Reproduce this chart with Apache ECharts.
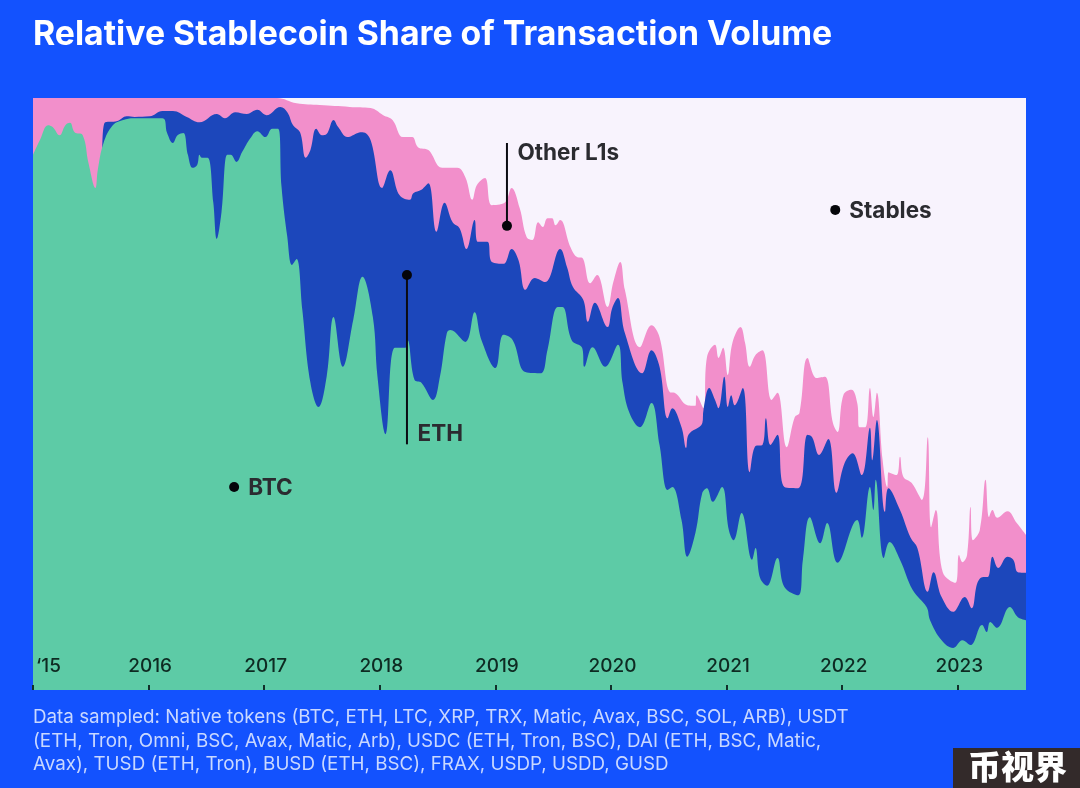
<!DOCTYPE html>
<html>
<head>
<meta charset="utf-8">
<title>Relative Stablecoin Share of Transaction Volume</title>
<style>
  html, body { margin: 0; padding: 0; background: #1352fe; }
  #chart { width: 1080px; height: 788px; }
</style>
<script src="https://cdn.jsdelivr.net/npm/echarts@6/dist/echarts.min.js"></script>
</head>
<body>
<div id="chart"></div>
<script>
// all shares are cumulative % of volume, x is the fractional year
var yearTicks = [2015, 2016, 2017, 2018, 2019, 2020, 2021, 2022, 2023];
var lastYear = 2023.59;

var btcTop = [
  [2015.00,90.4],[2015.06,92.9],[2015.13,95.4],[2015.17,95.1],[2015.23,93.7],[2015.28,95.4],[2015.32,95.8],[2015.36,94.2],[2015.43,93.7],[2015.48,89.0],
  [2015.54,84.8],[2015.56,87.8],[2015.61,92.4],[2015.69,95.4],[2015.78,96.3],[2015.87,96.6],[2016.12,96.6],[2016.16,94.1],[2016.21,92.4],[2016.25,93.7],
  [2016.30,94.1],[2016.34,90.4],[2016.38,88.2],[2016.42,88.7],[2016.44,90.4],[2016.46,89.9],[2016.51,89.9],[2016.56,82.3],[2016.59,76.2],[2016.63,80.6],
  [2016.68,90.4],[2016.71,90.4],[2016.76,89.2],[2016.81,90.9],[2016.88,93.2],[2016.94,94.4],[2017.01,93.4],[2017.07,94.8],[2017.12,94.8],[2017.15,85.0],
  [2017.20,76.5],[2017.24,71.8],[2017.28,72.8],[2017.33,64.2],[2017.40,51.9],[2017.47,47.8],[2017.54,52.9],[2017.60,63.0],[2017.68,54.6],[2017.77,62.5],
  [2017.85,69.8],[2017.94,63.0],[2017.98,52.9],[2018.05,43.2],[2018.13,57.8],[2018.22,57.8],[2018.24,59.1],[2018.30,52.4],[2018.36,51.9],[2018.46,49.0],
  [2018.52,52.9],[2018.58,60.3],[2018.61,60.8],[2018.74,58.8],[2018.82,63.8],[2018.88,59.1],[2019.00,54.4],[2019.07,60.0],[2019.15,59.1],[2019.26,53.7],
  [2019.39,53.5],[2019.45,57.4],[2019.54,64.7],[2019.58,64.7],[2019.66,59.1],[2019.75,57.8],[2019.77,54.6],[2019.84,57.9],[2019.95,54.6],[2020.06,58.3],
  [2020.10,51.9],[2020.16,46.8],[2020.25,44.4],[2020.35,48.5],[2020.42,41.4],[2020.49,33.8],[2020.53,34.3],[2020.61,28.7],[2020.66,22.5],[2020.73,26.5],
  [2020.79,33.3],[2020.83,34.1],[2020.88,31.8],[2020.96,34.3],[2021.02,27.0],[2021.06,25.3],[2021.13,29.9],[2021.22,22.0],[2021.25,24.0],[2021.29,18.9],
  [2021.35,17.6],[2021.44,22.3],[2021.50,17.4],[2021.62,16.0],[2021.66,22.0],[2021.72,29.2],[2021.81,24.8],[2021.87,28.2],[2021.96,21.5],[2022.13,28.7],
  [2022.17,25.7],[2022.24,34.3],[2022.27,30.4],[2022.29,35.5],[2022.36,22.3],[2022.41,25.0],[2022.50,22.0],[2022.61,16.9],[2022.73,14.0],[2022.76,11.8],
  [2022.86,8.4],[2022.96,7.1],[2023.04,8.4],[2023.11,7.6],[2023.21,11.0],[2023.25,9.8],[2023.28,11.5],[2023.34,10.5],[2023.45,14.0],[2023.52,12.3],[2023.59,11.8]
];

var ethTop = [
  [2015.60,91.7],[2015.62,95.8],[2015.73,96.1],[2015.81,96.9],[2015.88,96.8],[2016.01,96.9],[2016.12,97.8],[2016.21,97.8],[2016.33,96.8],[2016.44,95.9],
  [2016.59,97.3],[2016.66,96.6],[2016.75,97.6],[2016.85,97.3],[2016.94,98.0],[2017.02,97.1],[2017.14,98.5],[2017.20,97.6],[2017.25,95.4],[2017.31,94.2],
  [2017.36,89.9],[2017.40,91.2],[2017.45,94.8],[2017.50,93.7],[2017.54,93.9],[2017.60,96.3],[2017.64,95.1],[2017.72,93.4],[2017.81,94.1],[2017.85,94.2],
  [2017.92,92.9],[2018.02,84.8],[2018.09,87.8],[2018.17,83.6],[2018.26,82.8],[2018.29,83.9],[2018.36,84.5],[2018.42,85.6],[2018.49,77.4],[2018.56,82.3],
  [2018.63,79.0],[2018.69,78.0],[2018.75,74.5],[2018.82,79.4],[2018.85,75.7],[2018.93,75.7],[2018.97,72.3],[2019.07,72.0],[2019.14,74.5],[2019.20,72.6],
  [2019.26,67.6],[2019.34,69.6],[2019.43,68.9],[2019.56,74.5],[2019.62,71.4],[2019.67,68.1],[2019.76,65.9],[2019.80,62.2],[2019.86,65.4],[2019.97,61.3],
  [2020.01,64.5],[2020.06,66.2],[2020.12,60.3],[2020.27,53.5],[2020.35,57.4],[2020.42,54.6],[2020.49,45.9],[2020.53,47.6],[2020.61,44.4],[2020.65,40.9],
  [2020.67,43.1],[2020.79,45.1],[2020.80,47.3],[2020.85,51.0],[2020.90,49.0],[2020.93,47.6],[2020.98,52.9],[2021.01,47.8],[2021.04,49.8],[2021.07,48.1],
  [2021.14,51.0],[2021.20,36.8],[2021.25,41.2],[2021.31,41.4],[2021.34,45.9],[2021.38,41.4],[2021.44,43.1],[2021.50,34.3],[2021.62,34.1],[2021.70,43.1],
  [2021.74,42.7],[2021.80,39.7],[2021.88,42.4],[2021.95,33.3],[2022.02,38.3],[2022.09,40.0],[2022.17,36.3],[2022.24,44.3],[2022.26,38.8],[2022.30,45.6],
  [2022.37,30.1],[2022.40,34.1],[2022.50,30.4],[2022.59,25.8],[2022.65,24.0],[2022.74,16.6],[2022.79,19.9],[2022.86,15.7],[2022.96,13.2],[2023.06,15.7],
  [2023.12,13.8],[2023.17,18.1],[2023.22,19.1],[2023.26,19.1],[2023.30,22.5],[2023.35,20.6],[2023.43,22.5],[2023.48,22.0],[2023.52,19.9],[2023.59,19.8]
];

var otherL1Top = [
  [2015.00,100],[2017.11,100],[2017.28,99.1],[2017.48,98.8],[2017.74,98.5],[2017.92,98.3],[2018.03,97.1],[2018.11,96.3],[2018.20,93.4],[2018.28,93.4],
  [2018.33,91.7],[2018.42,91.2],[2018.54,88.2],[2018.67,88.2],[2018.74,86.6],[2018.80,82.8],[2018.84,85.3],[2018.91,86.5],[2018.97,81.9],[2019.08,82.3],
  [2019.14,84.8],[2019.21,81.4],[2019.27,76.5],[2019.32,76.0],[2019.37,79.0],[2019.41,78.2],[2019.45,79.7],[2019.49,79.7],[2019.52,78.5],[2019.56,79.4],
  [2019.65,74.8],[2019.71,73.1],[2019.75,73.0],[2019.82,68.7],[2019.88,70.1],[2019.97,64.7],[2020.02,68.9],[2020.08,72.3],[2020.12,67.6],[2020.25,57.9],
  [2020.35,61.6],[2020.42,59.6],[2020.51,50.3],[2020.55,50.2],[2020.66,48.1],[2020.73,48.0],[2020.74,49.8],[2020.80,47.6],[2020.83,56.2],[2020.90,58.3],
  [2020.93,56.1],[2020.97,57.8],[2021.01,53.2],[2021.05,58.6],[2021.12,61.3],[2021.16,58.6],[2021.20,54.6],[2021.25,56.6],[2021.31,57.4],[2021.39,49.0],
  [2021.44,50.2],[2021.52,41.0],[2021.59,46.1],[2021.63,46.8],[2021.70,56.1],[2021.78,52.7],[2021.85,52.9],[2021.92,45.1],[2021.96,43.6],[2022.01,49.8],
  [2022.08,50.7],[2022.13,48.5],[2022.15,44.4],[2022.20,44.4],[2022.24,51.0],[2022.27,46.1],[2022.30,50.2],[2022.35,38.8],[2022.39,34.3],[2022.40,36.8],
  [2022.47,36.3],[2022.50,39.4],[2022.53,36.0],[2022.60,35.0],[2022.69,32.1],[2022.74,42.7],[2022.77,27.5],[2022.81,30.4],[2022.87,19.9],[2022.98,18.1],
  [2023.01,22.8],[2023.04,21.6],[2023.08,22.8],[2023.11,30.9],[2023.13,25.3],[2023.19,27.0],[2023.24,35.5],[2023.27,29.2],[2023.30,30.4],[2023.34,29.1],
  [2023.43,30.2],[2023.51,28.2],[2023.59,26.2]
];

var stablesTop = [[2015, 100], [lastYear, 100]];

var leaderOtherL1 = [[2019.10, 78.4], [2019.10, 92.4]];
var leaderEth = [[2018.235, 70.1], [2018.235, 41.5]];
var dots = [[2021.94, 81.1], [2016.74, 34.3], [2019.10, 78.4], [2018.235, 70.1]];
var dotLabels = [
  { name: 'Stables', value: [2021.94, 81.1] },
  { name: 'BTC', value: [2016.74, 34.3] }
];
var leaderLabels = [
  { name: 'Other L1s', value: [2019.10, 90.9] },
  { name: 'ETH', value: [2018.235, 43.4] }
];

var footnote = [
  'Data sampled: Native tokens (BTC, ETH, LTC, XRP, TRX, Matic, Avax, BSC, SOL, ARB), USDT',
  '(ETH, Tron, Omni, BSC, Avax, Matic, Arb), USDC (ETH, Tron, BSC), DAI (ETH, BSC, Matic,',
  'Avax), TUSD (ETH, Tron), BUSD (ETH, BSC), FRAX, USDP, USDD, GUSD'
].join('\n');

function areaSeries(name, data, color, z) {
  return {
    name: name,
    type: 'line',
    data: data,
    z: z,
    smooth: 0.4,
    showSymbol: false,
    silent: true,
    lineStyle: { width: 0 },
    areaStyle: { color: color, opacity: 1 }
  };
}

function leaderSeries(data) {
  return {
    type: 'line',
    data: data,
    z: 8,
    showSymbol: false,
    silent: true,
    lineStyle: { color: '#0b0b12', width: 2 }
  };
}

function labelSeries(data, gap) {
  return {
    type: 'scatter',
    data: data,
    z: 9,
    symbolSize: 0,
    silent: true,
    itemStyle: { opacity: 1 },
    label: {
      show: true,
      position: 'right',
      distance: gap,
      offset: [0, 1.5],
      formatter: '{b}',
      color: '#2b2b30',
      fontFamily: 'Inter',
      fontWeight: 700,
      fontSize: 22.5
    }
  };
}

var chart = echarts.init(document.getElementById('chart'), null, { renderer: 'canvas' });

chart.setOption({
  animation: false,
  backgroundColor: '#1352fe',
  title: [
    {
      text: 'Relative Stablecoin Share of Transaction Volume',
      left: 33,
      top: 18,
      padding: 0,
      textStyle: { color: '#fff', fontFamily: 'Inter', fontWeight: 700, fontSize: 33.8 }
    },
    {
      text: footnote,
      left: 33,
      top: 706,
      padding: 0,
      textStyle: { color: '#c9d8ff', fontFamily: 'Inter', fontWeight: 400, fontSize: 18.8, lineHeight: 23.5 }
    }
  ],
  grid: { left: 33, right: 54, top: 98, bottom: 98 },
  xAxis: {
    type: 'value',
    min: 2015,
    max: lastYear,
    interval: 1,
    z: 10,
    splitLine: { show: false },
    axisLine: { show: false },
    axisTick: { inside: true, length: 5, customValues: yearTicks, lineStyle: { color: '#12302a', width: 2 } },
    axisLabel: {
      inside: true,
      margin: 14,
      padding: [0, 0, 0, 3],
      customValues: yearTicks,
      alignMinLabel: 'left',
      color: '#0e2a22',
      fontFamily: 'Inter',
      fontWeight: 500,
      fontSize: 19,
      formatter: function (v) { return v === 2015 ? '\u201815' : String(v); }
    }
  },
  yAxis: { type: 'value', min: 0, max: 100, show: false, splitLine: { show: false } },
  series: [
    areaSeries('Stables', stablesTop, '#f8f3fd', 1),
    areaSeries('Other L1s', otherL1Top, '#f28fcb', 2),
    areaSeries('ETH', ethTop, '#1c47bb', 3),
    areaSeries('BTC', btcTop, '#5dcba6', 4),
    leaderSeries(leaderOtherL1),
    leaderSeries(leaderEth),
    {
      type: 'scatter',
      data: dots,
      z: 9,
      symbolSize: 10,
      silent: true,
      itemStyle: { color: '#05050a', opacity: 1 }
    },
    labelSeries(dotLabels, 14),
    labelSeries(leaderLabels, 10.5)
  ],
  graphic: [
    { type: 'rect', left: 953, top: 748, shape: { width: 127, height: 40 }, style: { fill: '#332a2a' } },
    {
      type: 'text',
      left: 968,
      top: 750,
      style: { text: '币视界', fill: '#fff', font: '900 33px "Noto Sans CJK SC"' }
    }
  ]
});
</script>
</body>
</html>
